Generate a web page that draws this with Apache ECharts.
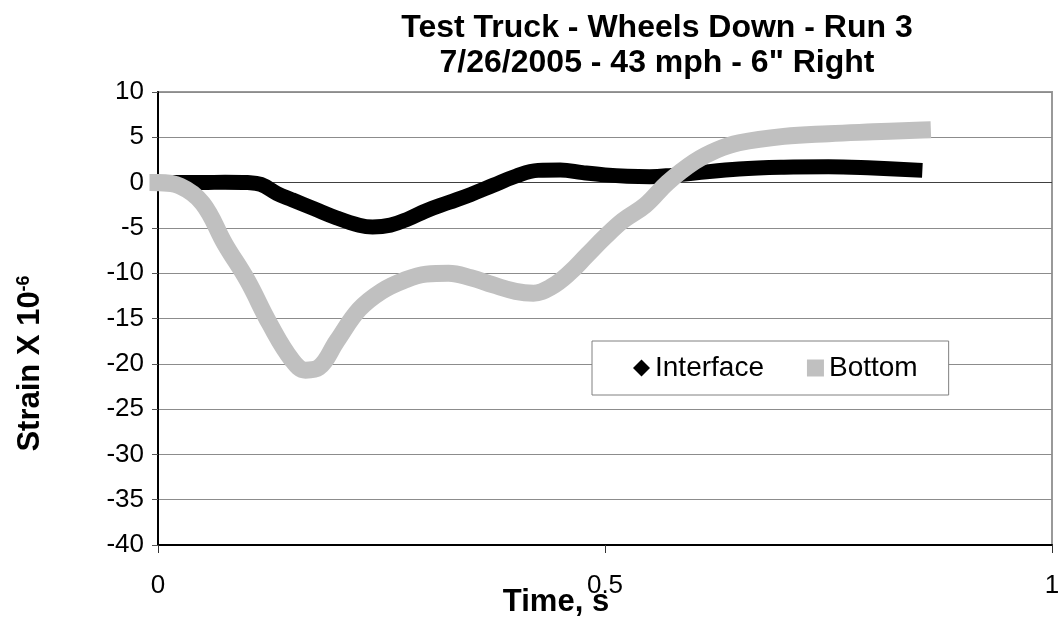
<!DOCTYPE html>
<html>
<head>
<meta charset="utf-8">
<title>Test Truck - Wheels Down - Run 3</title>
<script src="https://cdn.jsdelivr.net/npm/echarts@6.0.0/dist/echarts.min.js"></script>
<style>
  html, body { margin: 0; padding: 0; background: #fff; }
  #chart { width: 1059px; height: 625px; }
</style>
</head>
<body>
<div id="chart"></div>
<script>
// values (time in s, strain x 10^-6)
const timeInterface = [0, 0.025, 0.05, 0.075, 0.1, 0.115, 0.133, 0.15, 0.175, 0.2, 0.225, 0.24, 0.26, 0.28, 0.3, 0.325, 0.35, 0.375, 0.4, 0.425, 0.45, 0.475, 0.5, 0.525, 0.55, 0.575, 0.6, 0.65, 0.7, 0.75, 0.8, 0.855]
const strainInterface = [0, 0, 0, 0.05, 0, -0.2, -1.2, -1.9, -2.9, -3.9, -4.7, -4.9, -4.7, -4.0, -3.1, -2.2, -1.3, -0.3, 0.7, 1.35, 1.4, 1.1, 0.85, 0.7, 0.65, 0.8, 1.05, 1.5, 1.7, 1.75, 1.6, 1.35]

const timeBottom = [0, 0.025, 0.05, 0.075, 0.1, 0.125, 0.15, 0.165, 0.18, 0.2, 0.225, 0.25, 0.275, 0.3, 0.325, 0.35, 0.375, 0.4, 0.42, 0.44, 0.46, 0.48, 0.5, 0.52, 0.545, 0.57, 0.6, 0.625, 0.65, 0.7, 0.75, 0.8, 0.855]
const strainBottom = [0, -0.4, -2.3, -6.8, -10.8, -15.6, -19.6, -20.7, -20.4, -17.5, -14.0, -12.0, -10.8, -10.1, -10.0, -10.5, -11.3, -12.0, -12.2, -11.5, -10.0, -8.0, -6.0, -4.2, -2.5, 0, 2.3, 3.6, 4.4, 5.1, 5.4, 5.6, 5.8]

const seriesNames = ['Interface', 'Bottom']
const yMin = -40, yMax = 10, yStep = 5
const xMin = 0, xMax = 1, xStep = 0.5

const FONT = "'Liberation Sans', Arial, sans-serif"

// y=0 gridline is drawn darker than the others
const gridColors = []
for (let v = yMin; v <= yMax; v += yStep) {
  gridColors.push(v === 0 ? '#404040' : '#8c8c8c')
}

const chart = echarts.init(document.getElementById('chart'))

const option = {
  animation: false,
  backgroundColor: '#fff',
  textStyle: { fontFamily: FONT, color: '#000' },
  title: {
    text: 'Test Truck - Wheels Down - Run 3\n7/26/2005 - 43 mph - 6" Right',
    left: 652,
    top: 6,
    textAlign: 'center',
    textStyle: {
      fontFamily: FONT,
      fontSize: 32,
      fontWeight: 'bold',
      lineHeight: 35,
      color: '#000'
    }
  },
  legend: {
    left: 592,
    top: 341,
    orient: 'horizontal',
    padding: [13, 31, 13, 41],
    itemGap: 43,
    itemWidth: 17,
    itemHeight: 17,
    backgroundColor: '#fff',
    borderColor: '#808080',
    borderWidth: 1,
    itemStyle: { borderWidth: 0 },
    textStyle: { fontFamily: FONT, fontSize: 28, color: '#000' },
    data: [
      { name: seriesNames[0], icon: 'diamond' },
      { name: seriesNames[1], icon: 'rect' }
    ]
  },
  grid: {
    left: 158,
    right: 7,
    top: 92,
    bottom: 80,
    outerBoundsMode: 'none',
    show: true,
    borderColor: '#999',
    borderWidth: 2,
    backgroundColor: 'transparent'
  },
  xAxis: {
    type: 'value',
    min: xMin,
    max: xMax,
    interval: xStep,
    name: 'Time, s',
    nameLocation: 'middle',
    nameGap: 42,
    nameMoveOverlap: false,
    nameTextStyle: {
      fontFamily: FONT,
      fontSize: 31,
      fontWeight: 'bold',
      color: '#000',
      padding: [0, 98, 0, 0]
    },
    axisLine: { onZero: false, lineStyle: { color: '#000', width: 2 } },
    axisTick: { show: true, length: 8, lineStyle: { color: '#333' } },
    axisLabel: { margin: 28, fontSize: 26, color: '#000', fontFamily: FONT },
    splitLine: { show: false }
  },
  yAxis: {
    type: 'value',
    min: yMin,
    max: yMax,
    interval: yStep,
    name: '{a|Strain X 10}{b|-6}',
    nameLocation: 'middle',
    nameRotate: 90,
    nameGap: 112,
    nameMoveOverlap: false,
    nameTextStyle: {
      padding: [0, 90, 0, 0],
      rich: {
        a: { fontFamily: FONT, fontSize: 31, fontWeight: 'bold', color: '#000' },
        b: { fontFamily: FONT, fontSize: 18, fontWeight: 'bold', color: '#000', verticalAlign: 'top' }
      }
    },
    axisLine: { show: true, lineStyle: { color: '#000', width: 2 } },
    axisTick: { show: true, length: 6, lineStyle: { color: '#555' } },
    axisLabel: { margin: 14, fontSize: 26, color: '#000', fontFamily: FONT },
    splitLine: { show: true, lineStyle: { color: gridColors, width: 1 } }
  },
  series: [
    {
      name: seriesNames[0],
      type: 'line',
      data: timeInterface.map((t, i) => [t, strainInterface[i]]),
      showSymbol: false,
      smooth: 0.4,
      clip: false,
      z: 2,
      lineStyle: { color: '#000', width: 15 },
      itemStyle: { color: '#000' }
    },
    {
      name: seriesNames[1],
      type: 'line',
      data: timeBottom.map((t, i) => [t, strainBottom[i]]),
      showSymbol: false,
      smooth: 0.4,
      clip: false,
      z: 3,
      lineStyle: { color: '#c0c0c0', width: 17, cap: 'square' },
      itemStyle: { color: '#c0c0c0' }
    }
  ]
}

chart.setOption(option)
</script>
</body>
</html>
